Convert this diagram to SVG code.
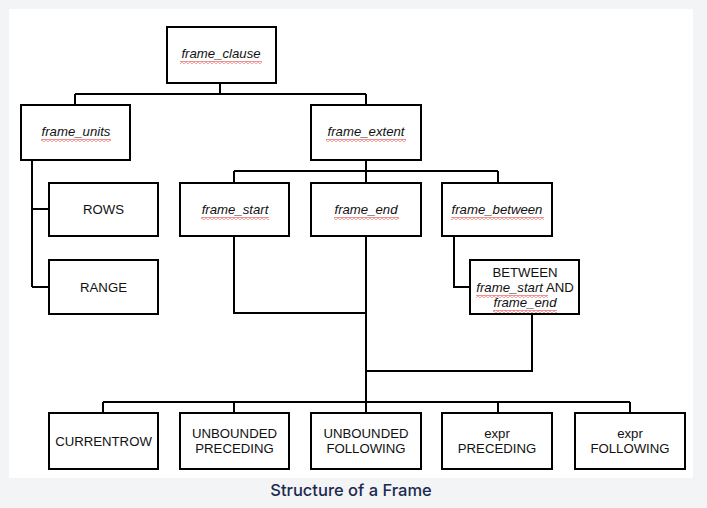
<svg xmlns="http://www.w3.org/2000/svg" width="707" height="508" viewBox="0 0 707 508">
<defs>
<style>
.box{fill:#fff;stroke:#000;stroke-width:2}
.t{font-family:"Liberation Sans",Arial,sans-serif;font-size:13.2px;fill:#111;text-anchor:middle}
.i{font-style:italic}
.c{fill:none;stroke:#000;stroke-width:2}
.sq{fill:url(#wave)}
.cap{font-family:Inter,"Noto Sans",sans-serif;font-size:16.5px;font-weight:500;fill:#1c2a4f;text-anchor:middle}
</style>
<pattern id="wave" x="0" y="0" width="4" height="3" patternUnits="userSpaceOnUse">
<path d="M0 0.6 L2 2.4 L4 0.6" fill="none" stroke="#e03a36" stroke-width="1"/>
</pattern>
</defs>
<rect width="707" height="508" fill="#f3f4f6"/>
<rect x="9" y="9" width="684" height="469" fill="#fff"/>

<g id="connectors">
<path class="c" d="M220 83V94M75 94H366M75 94V105M366 94V105"/>
<path class="c" d="M32 160V287M32 209H49M32 287H49"/>
<path class="c" d="M366 160V183M234 171H498M234 171V183M498 171V183"/>
<path class="c" d="M454 236V287H470"/>
<path class="c" d="M234 236V313H366"/>
<path class="c" d="M366 236V413"/>
<path class="c" d="M532 314V371H366"/>
<path class="c" d="M103 402H630M103 402V413M234 402V413M498 402V413M630 402V413"/>
</g>

<g id="frame_clause">
<rect class="box" x="167" y="27" width="109" height="56"/>
<text class="t i" x="221" y="58">frame_clause</text>
<rect class="sq" x="180" y="61" width="82" height="3"/>
</g>
<g id="frame_units">
<rect class="box" x="21" y="105" width="109" height="55"/>
<text class="t i" x="76" y="136">frame_units</text>
<rect class="sq" x="41" y="139" width="70" height="3"/>
</g>
<g id="frame_extent">
<rect class="box" x="311" y="105" width="110" height="55"/>
<text class="t i" x="366" y="136">frame_extent</text>
<rect class="sq" x="326" y="139" width="80" height="3"/>
</g>
<g id="rows">
<rect class="box" x="49" y="183" width="109" height="53"/>
<text class="t" x="103.5" y="214">ROWS</text>
</g>
<g id="range">
<rect class="box" x="49" y="260" width="109" height="54"/>
<text class="t" x="103.5" y="292">RANGE</text>
</g>
<g id="frame_start">
<rect class="box" x="180" y="183" width="109" height="53"/>
<text class="t i" x="235" y="214">frame_start</text>
<rect class="sq" x="201" y="217" width="68" height="3"/>
</g>
<g id="frame_end">
<rect class="box" x="311" y="183" width="110" height="53"/>
<text class="t i" x="366" y="214">frame_end</text>
<rect class="sq" x="334" y="217" width="65" height="3"/>
</g>
<g id="frame_between">
<rect class="box" x="442" y="183" width="110" height="53"/>
<text class="t i" x="497" y="214">frame_between</text>
<rect class="sq" x="451" y="217" width="93" height="3"/>
</g>
<g id="between">
<rect class="box" x="470" y="260" width="109" height="54"/>
<text class="t" x="525" y="277">BETWEEN</text>
<text class="t" x="525" y="292"><tspan class="i">frame_start</tspan> AND</text>
<rect class="sq" x="476" y="295" width="72" height="3"/>
<text class="t i" x="525" y="307">frame_end</text>
<rect class="sq" x="493" y="310" width="64" height="3"/>
</g>
<g id="currentrow">
<rect class="box" x="49" y="413" width="109" height="56"/>
<text class="t" x="103.5" y="446">CURRENTROW</text>
</g>
<g id="unbounded_preceding">
<rect class="box" x="180" y="413" width="109" height="56"/>
<text class="t" x="234.5" y="438">UNBOUNDED</text>
<text class="t" x="234.5" y="453">PRECEDING</text>
</g>
<g id="unbounded_following">
<rect class="box" x="311" y="413" width="110" height="56"/>
<text class="t" x="366" y="438">UNBOUNDED</text>
<text class="t" x="366" y="453">FOLLOWING</text>
</g>
<g id="expr_preceding">
<rect class="box" x="442" y="413" width="110" height="56"/>
<text class="t" x="497" y="438">expr</text>
<text class="t" x="497" y="453">PRECEDING</text>
</g>
<g id="expr_following">
<rect class="box" x="575" y="413" width="110" height="56"/>
<text class="t" x="630" y="438">expr</text>
<text class="t" x="630" y="453">FOLLOWING</text>
</g>
<text class="cap" x="351" y="496">Structure of a Frame</text>
</svg>
